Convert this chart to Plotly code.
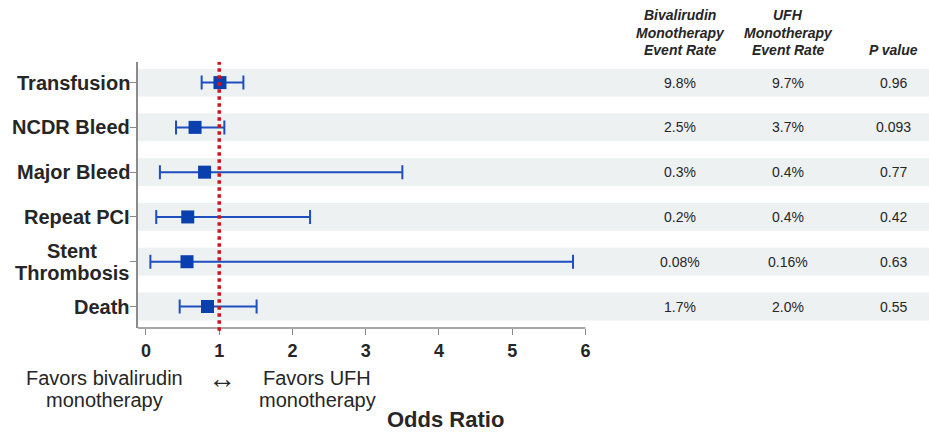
import plotly.graph_objects as go

outcomes = ["Transfusion", "NCDR Bleed", "Major Bleed", "Repeat PCI", "Stent Thrombosis", "Death"]
odds_ratio = [1.01, 0.67, 0.80, 0.57, 0.56, 0.84]
ci_low = [0.76, 0.41, 0.19, 0.14, 0.06, 0.46]
ci_high = [1.33, 1.07, 3.50, 2.24, 5.83, 1.51]
biv_rate = ["9.8%", "2.5%", "0.3%", "0.2%", "0.08%", "1.7%"]
ufh_rate = ["9.7%", "3.7%", "0.4%", "0.4%", "0.16%", "2.0%"]
p_value = ["0.96", "0.093", "0.77", "0.42", "0.63", "0.55"]
x_ticks = [0, 1, 2, 3, 4, 5, 6]

n = len(outcomes)
ypos = [n - 1 - i for i in range(n)]

FONT = "Arial, Liberation Sans, sans-serif"
TXT = "#262626"
BLUE = "#0a3fae"
LINEBLUE = "#1f4fbf"

# pixel helpers for the plot area (left 138, right 929, top 62, bottom 328)
def px_x(p):
    return (p - 138) / 791.0

def px_y(p):
    return (328 - p) / 266.0

fig = go.Figure()

fig.add_trace(go.Scatter(
    x=odds_ratio, y=ypos, mode="markers",
    marker=dict(symbol="square", size=13, color=BLUE),
    error_x=dict(type="data", symmetric=False,
                 array=[h - o for h, o in zip(ci_high, odds_ratio)],
                 arrayminus=[o - l for o, l in zip(odds_ratio, ci_low)],
                 color=LINEBLUE, thickness=2, width=7),
    showlegend=False, hoverinfo="skip",
))

shapes = []
for y in ypos:
    shapes.append(dict(type="rect", xref="paper", yref="y", x0=0, x1=1,
                       y0=y - 0.31, y1=y + 0.31, fillcolor="#eef1f1",
                       line=dict(width=0), layer="below"))
shapes.append(dict(type="line", xref="x", yref="paper", x0=-0.11, x1=6,
                   y0=0, y1=0, line=dict(color="#8a8a8a", width=1.5)))
shapes.append(dict(type="line", xref="x", yref="paper", x0=1, x1=1,
                   y0=-0.01, y1=1.0, line=dict(color="#d0141a", width=3.5, dash="dot")))

annotations = []
for y, lab in zip(ypos, outcomes):
    words = lab.split(" ")
    if lab == "Stent Thrombosis":
        for dy, w in zip([0.245, -0.245], words):
            annotations.append(dict(x=px_x(72), xref="paper", y=y + dy, yref="y",
                                    text="<b>%s</b>" % w, xanchor="center", yanchor="middle",
                                    showarrow=False, font=dict(family=FONT, size=20, color=TXT)))
    else:
        annotations.append(dict(x=px_x(131.5), xref="paper", y=y, yref="y", text="<b>%s</b>" % lab,
                                xanchor="right", yanchor="middle", showarrow=False,
                                font=dict(family=FONT, size=20, color=TXT)))

col_x = [px_x(680), px_x(788), px_x(893)]
for y, a, b, c in zip(ypos, biv_rate, ufh_rate, p_value):
    for cx, t in zip(col_x, [a, b, c]):
        annotations.append(dict(x=cx, xref="paper", y=y, yref="y", text=t,
                                xanchor="center", yanchor="middle", showarrow=False,
                                font=dict(family=FONT, size=14, color=TXT)))

headers = [["Bivalirudin", "Monotherapy", "Event Rate"], ["UFH", "Monotherapy", "Event Rate"], ["P value"]]
line_y = [15, 32.5, 50]
for cx, h in zip(col_x, headers):
    for i, t in enumerate(h):
        yy = line_y[3 - len(h) + i]
        annotations.append(dict(x=cx, xref="paper", y=px_y(yy), yref="paper",
                                text="<b><i>%s</i></b>" % t, xanchor="center", yanchor="middle",
                                showarrow=False, font=dict(family=FONT, size=14, color=TXT)))

captions = [(104, 378, "Favors bivalirudin", 20), (104, 400, "monotherapy", 20),
            (222, 378, "↔", 28), (317, 378, "Favors UFH", 20), (317, 400, "monotherapy", 20)]
for cxp, cyp, t, s in captions:
    annotations.append(dict(x=px_x(cxp), xref="paper", y=px_y(cyp), yref="paper", text=t,
                            xanchor="center", yanchor="middle", showarrow=False,
                            font=dict(family=FONT, size=s, color=TXT)))
annotations.append(dict(x=px_x(445), xref="paper", y=px_y(420), yref="paper",
                        text="<b>Odds Ratio</b>", xanchor="center", yanchor="middle",
                        showarrow=False, font=dict(family=FONT, size=22, color=TXT)))

fig.update_layout(
    width=929, height=433,
    margin=dict(l=138, r=0, t=62, b=105),
    plot_bgcolor="white", paper_bgcolor="white",
    shapes=shapes, annotations=annotations,
    xaxis=dict(range=[-0.109, 10.69], tickvals=x_ticks, ticktext=[str(t) for t in x_ticks],
               ticks="outside", ticklen=6, tickcolor="#8a8a8a", showline=False,
               showgrid=False, zeroline=False,
               tickfont=dict(family=FONT, size=18, color=TXT, weight="bold")),
    yaxis=dict(range=[-0.48, 5.46], tickvals=ypos, showticklabels=False,
               ticks="outside", ticklen=6, tickcolor="#8a8a8a",
               showline=True, linecolor="#8a8a8a", linewidth=1.5,
               showgrid=False, zeroline=False),
)

fig.write_html("out.html", config={"displayModeBar": False},
               post_script="document.body.style.margin='0';document.body.style.overflow='hidden';")
